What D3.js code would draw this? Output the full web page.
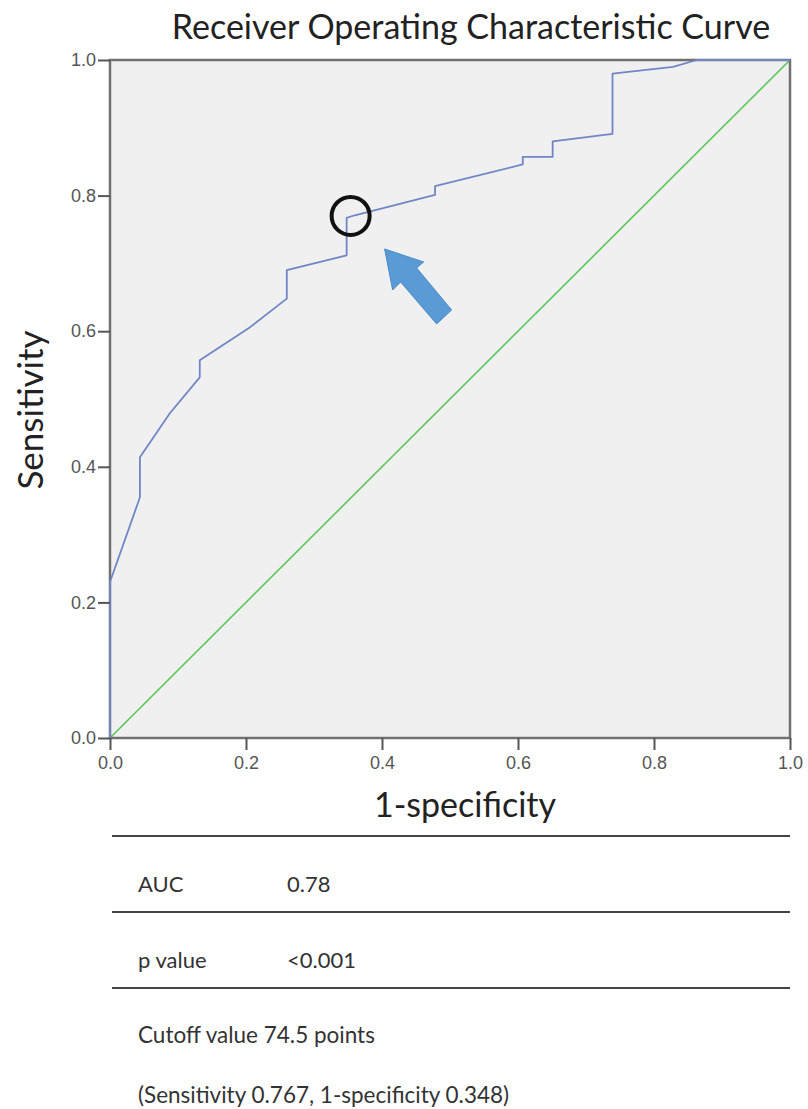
<!DOCTYPE html>
<html>
<head>
<meta charset="utf-8">
<script src="https://cdn.jsdelivr.net/npm/d3@7"></script>
<style>
  html, body { margin: 0; padding: 0; background: #fff; }
  svg { display: block; }
</style>
</head>
<body>
<svg id="chart" width="808" height="1109"></svg>
<script>
// ROC curve (1-specificity, sensitivity)
const fpr = [0, 0, 0.044, 0.044, 0.088, 0.132, 0.132, 0.206, 0.26, 0.26, 0.348, 0.348, 0.36, 0.478, 0.478, 0.607, 0.607, 0.651, 0.651, 0.739, 0.739, 0.828, 0.863, 1.0]
const sens = [0, 0.23, 0.355, 0.414, 0.479, 0.532, 0.557, 0.606, 0.648, 0.69, 0.712, 0.767, 0.771, 0.801, 0.814, 0.846, 0.857, 0.857, 0.88, 0.891, 0.98, 0.99, 1.0, 1.0]
const refLine = [0, 1]
const tickValues = [0, 0.2, 0.4, 0.6, 0.8, 1.0]
const cutoff = { fpr: 0.348, sens: 0.767 }
const tableRows = [
  { label: 'AUC', value: '0.78' },
  { label: 'p value', value: '<0.001' },
]
const notes = [
  'Cutoff value 74.5 points',
  '(Sensitivity 0.767, 1-specificity 0.348)',
]

const svg = d3.select('#chart')
const plot = { left: 110, right: 790, top: 60, bottom: 738 }

const x = d3.scaleLinear().domain([0, 1]).range([plot.left, plot.right])
const y = d3.scaleLinear().domain([0, 1]).range([plot.bottom, plot.top])

const fontMain = 'Lato, "Open Sans", sans-serif'
const fontTick = '"Liberation Sans Narrow", "Liberation Sans", Arial, sans-serif'

svg.append('rect').attr('width', 808).attr('height', 1109).attr('fill', '#fff')

// plot background
svg.append('rect')
  .attr('x', plot.left).attr('y', plot.top)
  .attr('width', plot.right - plot.left).attr('height', plot.bottom - plot.top)
  .attr('fill', '#f0f0f0')

// title
svg.append('text')
  .attr('x', 471).attr('y', 39)
  .attr('text-anchor', 'middle')
  .style('font-family', fontMain).style('font-size', '34px')
  .attr('fill', '#222')
  .text('Receiver Operating Characteristic Curve')

// reference diagonal
svg.append('line')
  .attr('x1', x(refLine[0])).attr('y1', y(refLine[0]))
  .attr('x2', x(refLine[1])).attr('y2', y(refLine[1]))
  .attr('stroke', '#5cc65c').attr('stroke-width', 1.6)

// frame
svg.append('rect')
  .attr('x', plot.left).attr('y', plot.top)
  .attr('width', plot.right - plot.left).attr('height', plot.bottom - plot.top)
  .attr('fill', 'none').attr('stroke', '#707070').attr('stroke-width', 2.5)

// ROC curve
const rocPts = fpr.map((f, i) => [f, sens[i]])
svg.append('path')
  .datum(rocPts)
  .attr('d', d3.line().x((d) => x(d[0])).y((d) => y(d[1])))
  .attr('fill', 'none')
  .attr('stroke', '#7086c6')
  .attr('stroke-width', 1.8)
  .attr('stroke-linejoin', 'round')

// axes
const yAxis = d3.axisLeft(y).tickValues(tickValues).tickFormat(d3.format('.1f')).tickSize(12).tickPadding(2)
const xAxis = d3.axisBottom(x).tickValues(tickValues).tickFormat(d3.format('.1f')).tickSize(12).tickPadding(6)

const gy = svg.append('g').attr('transform', `translate(${plot.left},0)`).call(yAxis)
const gx = svg.append('g').attr('transform', `translate(0,${plot.bottom})`).call(xAxis)

;[gx, gy].forEach((g) => {
  g.select('.domain').remove()
  g.selectAll('.tick line').attr('stroke', '#555').attr('stroke-width', 2)
  g.selectAll('.tick text')
    .style('font-family', fontTick).style('font-size', '18px')
    .attr('fill', '#555')
})

// axis titles
svg.append('text')
  .attr('x', 465).attr('y', 817)
  .attr('text-anchor', 'middle')
  .style('font-family', fontMain).style('font-size', '34px')
  .attr('fill', '#222')
  .text('1-specificity')

svg.append('text')
  .attr('transform', 'translate(43,410) rotate(-90)')
  .attr('text-anchor', 'middle')
  .style('font-family', fontMain).style('font-size', '35px')
  .attr('fill', '#222')
  .text('Sensitivity')

// cutoff marker circle
svg.append('circle')
  .attr('cx', x(cutoff.fpr) + 4).attr('cy', y(cutoff.sens) - 2)
  .attr('r', 19)
  .attr('fill', 'none').attr('stroke', '#111').attr('stroke-width', 4)

// arrow pointing at the cutoff
const arrowShape = [[0, 0], [39, 13], [32, 19], [67, 61], [52, 75], [16, 33], [8, 41]]
svg.append('polygon')
  .attr('transform', `translate(${x(cutoff.fpr) + 38},${y(cutoff.sens) + 31})`)
  .attr('points', arrowShape.map((p) => p.join(',')).join(' '))
  .attr('fill', '#5b9bd5')
  .attr('stroke', '#4a8ac8').attr('stroke-width', 1)

// table under the chart
const rules = [836, 912, 988]
svg.selectAll('line.rule')
  .data(rules)
  .enter().append('line')
  .attr('class', 'rule')
  .attr('x1', 112).attr('x2', 790)
  .attr('y1', (d) => d).attr('y2', (d) => d)
  .attr('stroke', '#444').attr('stroke-width', 2)

tableRows.forEach((row, i) => {
  const by = 892 + i * 76
  svg.append('text')
    .attr('x', 138).attr('y', by)
    .style('font-family', fontMain).style('font-size', '22px')
    .attr('fill', '#333')
    .text(row.label)
  svg.append('text')
    .attr('x', 287).attr('y', by)
    .style('font-family', fontMain).style('font-size', '22px')
    .attr('fill', '#333')
    .text(row.value)
})

notes.forEach((line, i) => {
  svg.append('text')
    .attr('x', 138).attr('y', 1043 + i * 60)
    .style('font-family', fontMain).style('font-size', '22.5px')
    .attr('fill', '#333')
    .text(line)
})
</script>
</body>
</html>
